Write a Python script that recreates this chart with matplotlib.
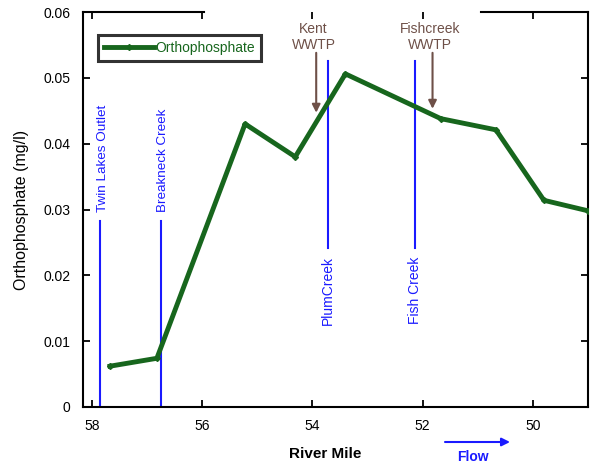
import matplotlib.pyplot as plt
from matplotlib.lines import Line2D

plt.rcParams['font.family'] = ['Liberation Sans', 'DejaVu Sans']

# river mile vs orthophosphate (mg/l)
river_mile = [57.67, 56.82, 55.22, 54.31, 53.40, 51.67, 50.67, 49.80, 49.00]
ortho = [0.0062, 0.0074, 0.0430, 0.0380, 0.0506, 0.0438, 0.0421, 0.0314, 0.0298]

# tributaries drawn as vertical lines
trib_names = ['Twin Lakes Outlet', 'Breakneck Creek', 'PlumCreek', 'Fish Creek']
trib_miles = [57.85, 56.75, 53.71, 52.13]
trib_low = [0.0, 0.0, 0.0242, 0.0242]
trib_high = [0.0283, 0.0283, 0.0526, 0.0526]

wwtp_names = ['Kent\nWWTP', 'Fishcreek\nWWTP']
wwtp_miles = [53.93, 51.82]
wwtp_tips = [0.0447, 0.0453]

x_ticks = [58, 56, 54, 52, 50]
y_ticks = [0, 0.01, 0.02, 0.03, 0.04, 0.05, 0.06]
y_labels = ['0', '0.01', '0.02', '0.03', '0.04', '0.05', '0.06']

green = '#17661d'
blue = '#1a1aff'
brown = '#6e5048'

fig = plt.figure(figsize=(5.91, 4.68), dpi=100, facecolor='white')
ax = fig.add_axes([83 / 591, 61 / 468, 505 / 591, 395 / 468])

ax.plot(river_mile, ortho, color=green, lw=3.5, marker='D', ms=3,
        label='Orthophosphate', zorder=3)

for name, m, lo, hi in zip(trib_names, trib_miles, trib_low, trib_high):
    ax.plot([m, m], [lo, hi], color=blue, lw=1.5, zorder=2)
    if lo == 0:
        ax.text(m - 0.05, hi + 0.0013, name, rotation=90, color=blue,
                fontsize=9.7, ha='center', va='bottom')
    else:
        ax.text(m, lo - 0.0013, name, rotation=90, color=blue,
                fontsize=10, ha='center', va='top')

for name, m, tip in zip(wwtp_names, wwtp_miles, wwtp_tips):
    ax.text(m + 0.05, 0.0562, name, color=brown, fontsize=10,
            ha='center', va='center', linespacing=1.15)
    ax.annotate('', xy=(m, tip), xytext=(m, 0.0538),
                arrowprops=dict(arrowstyle='-|>', color=brown, lw=1.5,
                                mutation_scale=12, shrinkA=0, shrinkB=0))

ax.set_xlim(58.16, 49.0)
ax.set_ylim(0, 0.06)
ax.set_xticks(x_ticks)
ax.set_xticklabels([str(t) for t in x_ticks])
ax.set_yticks(y_ticks)
ax.set_yticklabels(y_labels)
ax.tick_params(direction='in', length=5, width=1.3, labelsize=10,
               top=True, right=True, colors='black')
ax.tick_params(axis='x', pad=9)
ax.tick_params(axis='y', pad=9)

for s in ['left', 'right', 'bottom']:
    ax.spines[s].set_linewidth(1.5)
ax.spines['top'].set_visible(False)
# top spine is broken where the WWTP labels sit
for x0, x1 in [(0.0, 0.24), (0.788, 1.0)]:
    ax.add_line(Line2D([x0, x1], [1, 1], transform=ax.transAxes,
                       color='black', lw=1.5, clip_on=False))

ax.set_ylabel('Orthophosphate (mg/l)', fontsize=11.5, labelpad=10)

leg = ax.legend(loc='upper left', bbox_to_anchor=(0.03, 0.942),
                borderaxespad=0, fancybox=False, edgecolor='black',
                fontsize=10, handlelength=3.6, handletextpad=0.05,
                borderpad=0.45)
leg.get_frame().set_linewidth(2.2)
for t in leg.get_texts():
    t.set_color(green)

fig.text(325 / 591, 1 - 454 / 468, 'River Mile', fontsize=11, fontweight='bold',
         ha='center', va='center')
fig.text(473 / 591, 1 - 457 / 468, 'Flow', fontsize=10, fontweight='bold',
         color=blue, ha='center', va='center')
ax.annotate('', xy=(510 / 591, 1 - 442 / 468), xytext=(445 / 591, 1 - 442 / 468),
            xycoords='figure fraction', textcoords='figure fraction',
            arrowprops=dict(arrowstyle='-|>', color=blue, lw=1.5,
                            mutation_scale=12, shrinkA=0, shrinkB=0))

plt.savefig('out.png', dpi=100, facecolor='white')
plt.close()
